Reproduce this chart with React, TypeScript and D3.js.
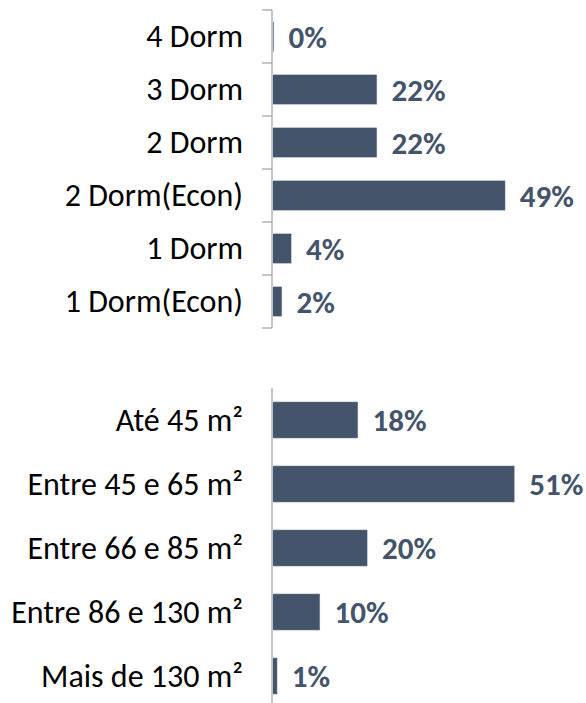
import React, { useEffect, useRef } from "react";
import * as d3 from "d3";

// top chart: dormitórios
const dormCategories = ["4 Dorm", "3 Dorm", "2 Dorm", "2 Dorm(Econ)", "1 Dorm", "1 Dorm(Econ)"];
const dormValues = [0.3, 22, 22, 49, 4, 2];
const dormLabels = ["0%", "22%", "22%", "49%", "4%", "2%"];

// bottom chart: área
const areaCategories = ["Até 45 m²", "Entre 45 e 65 m²", "Entre 66 e 85 m²", "Entre 86 e 130 m²", "Mais de 130 m²"];
const areaValues = [18, 51, 20, 10, 1];
const areaLabels = ["18%", "51%", "20%", "10%", "1%"];

const W = 586;
const H = 703;
const barColor = "#44546A";
const axisColor = "#a6a6a6";
const font = "Carlito, Calibri, 'Open Sans', sans-serif";

const App = () => {
  const svgRef = useRef<SVGSVGElement>(null);

  useEffect(() => {
    const svg = d3.select(svgRef.current);
    svg.selectAll("*").remove();

    const axisX = 272;
    const xScale = d3.scaleLinear().domain([0, 60]).range([axisX, axisX + 285]);

    const drawChart = (
      cats: string[],
      vals: number[],
      labels: string[],
      top: number,
      bottom: number,
      pad: number,
      withTicks: boolean
    ) => {
      const yScale = d3.scaleBand().domain(cats).range([top, bottom]).paddingInner(pad).paddingOuter(pad / 2);
      const g = svg.append("g");

      // axis line
      g.append("line")
        .attr("x1", axisX)
        .attr("x2", axisX)
        .attr("y1", top)
        .attr("y2", bottom)
        .attr("stroke", axisColor)
        .attr("stroke-width", 1.3);

      if (withTicks) {
        const step = yScale.step();
        d3.range(cats.length + 1).forEach((i) => {
          g.append("line")
            .attr("x1", axisX - 10)
            .attr("x2", axisX)
            .attr("y1", top + i * step)
            .attr("y2", top + i * step)
            .attr("stroke", axisColor)
            .attr("stroke-width", 1.3);
        });
      }

      cats.forEach((c, i) => {
        const y = yScale(c)!;
        const bw = yScale.bandwidth();
        const cy = y + bw / 2;

        g.append("rect")
          .attr("x", xScale(0) + 0.5)
          .attr("y", y)
          .attr("width", xScale(vals[i]) - xScale(0))
          .attr("height", bw)
          .attr("fill", barColor)
          .attr("stroke", "#e0e3e8")
          .attr("stroke-width", 0.6);

        g.append("text")
          .attr("x", axisX - 29)
          .attr("y", cy)
          .attr("dy", "0.33em")
          .attr("text-anchor", "end")
          .attr("font-family", font)
          .attr("font-size", 32)
          .attr("fill", "#000")
          .text(c);

        g.append("text")
          .attr("x", xScale(vals[i]) + 15)
          .attr("y", cy)
          .attr("dy", "0.36em")
          .attr("font-family", font)
          .attr("font-size", 31)
          .attr("font-weight", "bold")
          .attr("fill", barColor)
          .text(labels[i]);
      });
    };

    drawChart(dormCategories, dormValues, dormLabels, 10, 328, 0.43, true);
    drawChart(areaCategories, areaValues, areaLabels, 388, 708, 0.43, false);
  }, []);

  return (
    <svg
      ref={svgRef}
      width={W}
      height={H}
      style={{ position: "absolute", left: 0, top: 0, background: "#fff" }}
    ></svg>
  );
};

export default App;
